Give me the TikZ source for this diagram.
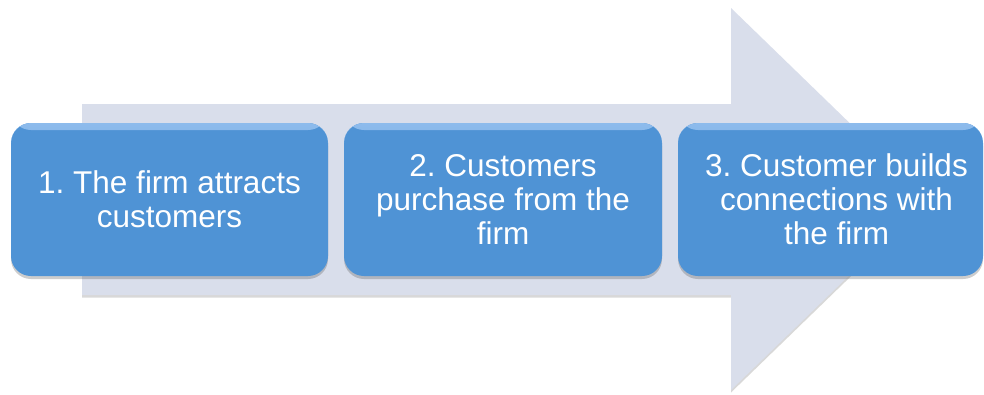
\documentclass[tikz,border=0pt]{standalone}
\usepackage{fontspec}
\setmainfont{Liberation Sans}
\usetikzlibrary{shadows}
\definecolor{boxblue}{HTML}{4F93D5}
\definecolor{boxtop}{HTML}{8DBBEC}
\definecolor{arrowgray}{HTML}{D9DEEB}
\frenchspacing
\begin{document}
\begin{tikzpicture}[x=1pt,y=-1pt,
  stepbox/.style={rounded corners=20pt, fill=boxblue, inner sep=0pt,
    minimum height=153pt, text=white, align=center,
    font=\fontsize{31.5}{34}\selectfont,
    drop shadow={shadow xshift=0pt, shadow yshift=-3pt, opacity=0.28, fill=black!70},
    path picture={\shade[top color=boxtop, bottom color=boxblue]
      (path picture bounding box.north west) rectangle
      ([yshift=-7pt]path picture bounding box.north east);}},
  steptext/.style={text=white, align=center, inner sep=0pt,
    font=\fontsize{31.5}{34}\selectfont},
  bigarrow/.style={fill=arrowgray,
    drop shadow={shadow xshift=0pt, shadow yshift=-2.5pt, opacity=0.22, fill=black!70}}]
\useasboundingbox (0,0) rectangle (984,394);
\fill[bigarrow] (82,104) -- (731,104) -- (731,8) -- (928,199) -- (731,390) -- (731,295) -- (82,295) -- cycle;
\node[stepbox, minimum width=317pt] (b1) at (169.5,199.5) {1. The firm attracts\\customers};
\node[stepbox, minimum width=318pt] (b2) at (503,199.5) {2. Customers\\purchase from the\\firm};
\node[stepbox, minimum width=305pt] (b3) at (830.5,199.5) {};
\node[steptext] (t3) at ([xshift=6pt]b3.center) {3. Customer builds\\connections with\\the firm};
\end{tikzpicture}
\end{document}
